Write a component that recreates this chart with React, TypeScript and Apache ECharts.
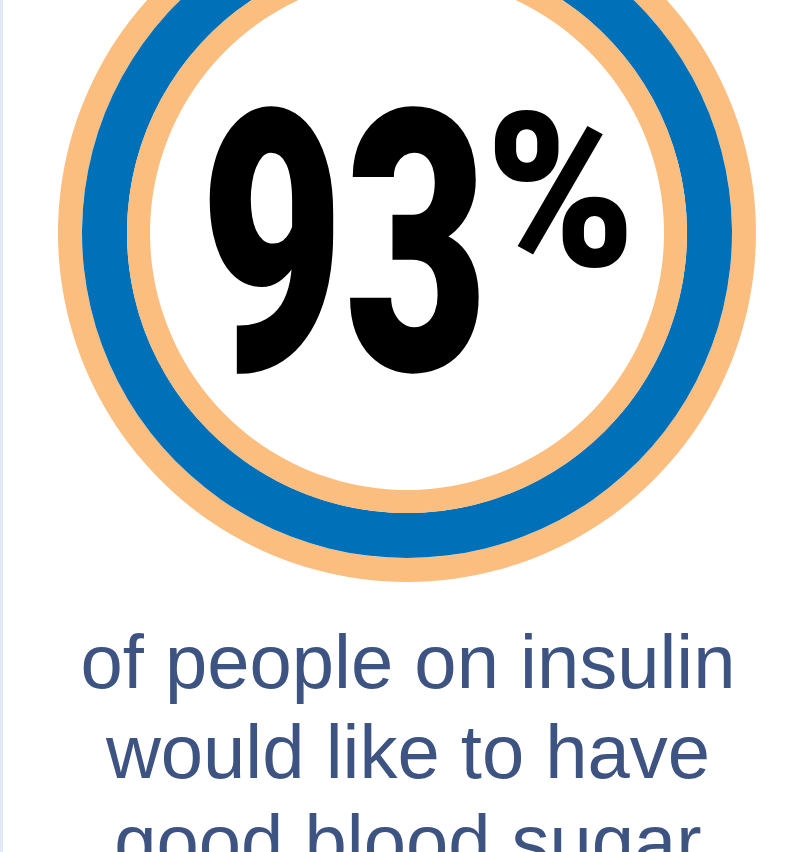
import React, { useEffect, useRef } from "react";
import * as echarts from "echarts";

// ---- data ----
const shareValues = [93, 7];
const shareNames = ["would like good blood sugar", "other"];
const trackValues = [100];
const captionLines = ["of people on insulin", "would like to have", "good blood sugar"];

const ORANGE = "#FBBE7E";
const BLUE = "#0071B9";
const TEXT = "#3D5381";

export default function App() {
  const ref = useRef<HTMLDivElement>(null);
  useEffect(() => {
    const chart = echarts.init(ref.current!, null, { renderer: "svg" });
    const cx = 407;
    const cy = 233;
    const ringBase = {
      type: "pie",
      center: [cx, cy],
      silent: true,
      label: { show: false },
      labelLine: { show: false },
      emphasis: { disabled: true },
      clockwise: true,
    };
    chart.setOption({
      animation: false,
      backgroundColor: "#ffffff",
      series: [
        {
          ...ringBase,
          name: "outer",
          radius: [325, 349],
          data: trackValues.map((v) => ({ value: v, itemStyle: { color: ORANGE } })),
        },
        {
          ...ringBase,
          name: "share",
          radius: [280, 325],
          startAngle: 90 - (shareValues[1] / 100) * 180,
          data: shareValues.map((v, i) => ({
            value: v,
            name: shareNames[i],
            itemStyle: { color: i === 0 ? BLUE : ORANGE },
          })),
        },
        {
          ...ringBase,
          name: "inner",
          radius: [257, 280],
          data: trackValues.map((v) => ({ value: v, itemStyle: { color: ORANGE } })),
        },
      ],
      graphic: [
        {
          type: "rect",
          shape: { x: 0, y: 0, width: 3, height: 852 },
          style: { fill: "#E2E9F5" },
          silent: true,
        },
        {
          type: "text",
          x: 200,
          y: 245,
          scaleX: 0.68,
          silent: true,
          style: {
            text: String(shareValues[0]),
            fontSize: 366,
            fontWeight: 900,
            fontFamily: "Roboto",
            fill: "#000000",
            align: "left",
            textAlign: "left",
            verticalAlign: "middle",
            textVerticalAlign: "middle",
          },
        },
        {
          type: "text",
          x: 486,
          y: 192,
          scaleX: 0.93,
          silent: true,
          style: {
            text: "%",
            fontSize: 216,
            fontWeight: 900,
            fontFamily: "Roboto",
            fill: "#000000",
            align: "left",
            textAlign: "left",
            verticalAlign: "middle",
            textVerticalAlign: "middle",
          },
        },
        ...captionLines.map((line, i) => ({
          type: "text",
          x: 408,
          y: 661 + i * 90,
          silent: true,
          style: {
            text: line,
            fontSize: 76,
            fontFamily: "Liberation Sans",
            fill: TEXT,
            align: "center",
            textAlign: "center",
            verticalAlign: "middle",
            textVerticalAlign: "middle",
          },
        })),
      ],
    });
    return () => chart.dispose();
  }, []);
  return (
    <div
      ref={ref}
      style={{ position: "absolute", left: 0, top: 0, width: 808, height: 852, background: "#fff" }}
    />
  );
}
